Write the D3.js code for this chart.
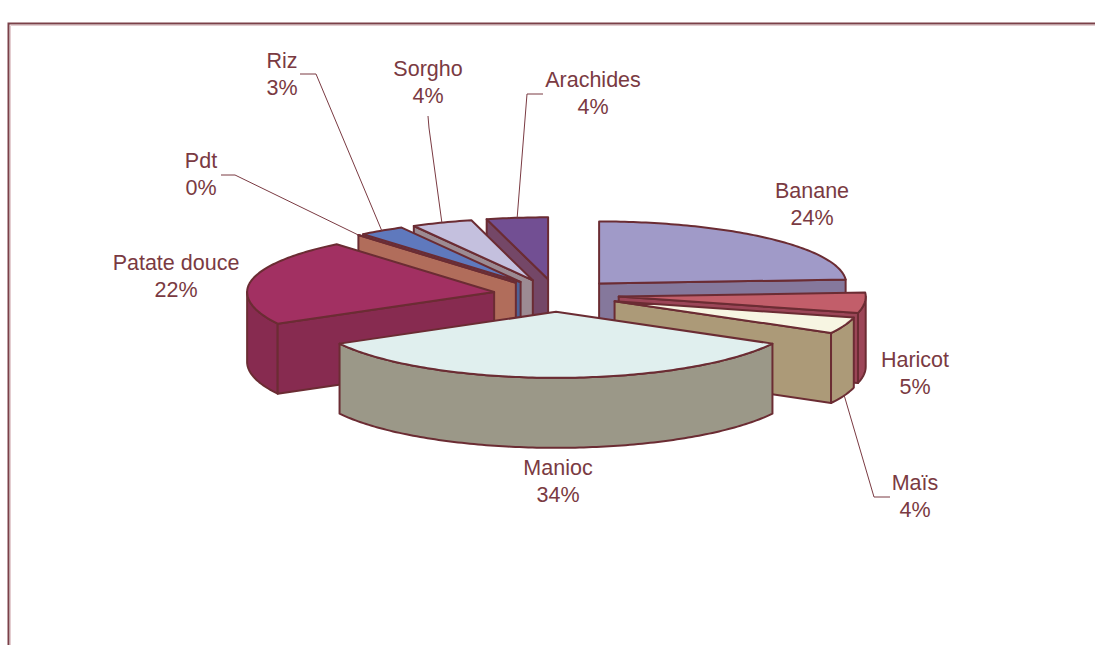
<!DOCTYPE html>
<html>
<head>
<meta charset="utf-8">
<script src="https://cdn.jsdelivr.net/npm/d3@7"></script>
<style>
  html, body { margin: 0; padding: 0; background: #ffffff; }
  svg { display: block; }
</style>
</head>
<body>
<svg id="chart" width="1095" height="645"></svg>
<script>
// Crop shares (percent of cultivated area)
const categories = ["Banane", "Haricot", "Maïs", "Manioc", "Patate douce", "Pdt", "Riz", "Sorgho", "Arachides"];
const shares = [24, 5, 4, 34, 22, 0, 3, 4, 4];

// Face colours per slice: lit top and shaded walls
const topColors  = ["#A09AC8", "#C25E6A", "#F7F5E2", "#E0EFEE", "#A23062", "#C27A64", "#5F79BD", "#C4C0DE", "#724F93"];
const sideColors = ["#85789C", "#9C4658", "#AC9A78", "#9B9888", "#872B50", "#B16D5B", "#4F6196", "#9C8B93", "#744767"];

// Label placement: anchor (centre, first baseline) and optional leader elbow
const labelLayout = [
  { x: 812, y: 198 },
  { x: 915, y: 367 },
  { x: 915, y: 490, leader: [[890, 497], [874, 497]], attach: "bottom" },
  { x: 558, y: 475 },
  { x: 176, y: 270 },
  { x: 201, y: 168, leader: [[221, 175], [235, 175]], attach: "top" },
  { x: 282, y: 68,  leader: [[300, 74], [316, 74]], attach: "top" },
  { x: 428, y: 76,  leader: [[428, 116], [429, 128]], attach: "top" },
  { x: 593, y: 87,  leader: [[543, 94], [527, 94]], attach: "top" }
];

const W = 1095, H = 645;
const cx = 556, cy = 295;      // centre of the pie disc
const rx = 247;                // projected horizontal radius
const ryFront = 66, ryBack = 62; // projected depth radius, near and far halves
const depth = 70;              // wall height
const explode = 0.255;         // slice offset as a fraction of the radius
const stroke = "#6B2C33";
const textColor = "#7A3A42";

const svg = d3.select("#chart");

// Chart frame
svg.append("path")
  .attr("d", `M8.5,${H} L8.5,23.5 L${W},23.5`)
  .attr("fill", "none")
  .attr("stroke", "#7B4048")
  .attr("stroke-width", 2);
svg.append("path")
  .attr("d", `M10.5,${H} L10.5,25.5 L${W},25.5`)
  .attr("fill", "none")
  .attr("stroke", "#E4CDD0")
  .attr("stroke-width", 1);

// Ground-plane scales: unit disc coordinates -> screen (far half slightly foreshortened)
const xScale = d3.scaleLinear().domain([-1, 1]).range([cx - rx, cx + rx]);
const zScale = d3.scaleLinear().domain([-1, 0, 1]).range([cy - ryBack, cy, cy + ryFront]);

const pie = d3.pie().sort(null).value(d => d.value)
  .startAngle(0).endAngle(2 * Math.PI);

const data = categories.map((c, i) => ({ name: c, value: shares[i], i }));
const arcs = pie(data);

// Project a point of a slice: angle theta (clockwise from 12 o'clock),
// radius fraction r, wall level h (0 top, 1 bottom), slice mid angle m
function project(theta, r, h, m) {
  const X = r * Math.sin(theta) + explode * Math.sin(m);
  const Z = -r * Math.cos(theta) - explode * Math.cos(m);
  return [xScale(X), zScale(Z) + h * depth];
}

function arcPoints(a0, a1, h, m) {
  const n = Math.max(2, Math.ceil(Math.abs(a1 - a0) / (Math.PI / 180)));
  const pts = [];
  for (let k = 0; k <= n; k++) {
    const t = a0 + (a1 - a0) * k / n;
    pts.push(project(t, 1, h, m));
  }
  return pts;
}

const line = d3.line();

arcs.forEach(a => {
  a.mid = (a.startAngle + a.endAngle) / 2;
  a.zOrder = -Math.cos(a.mid);
});

// Paint from back to front
const order = arcs.slice().sort((p, q) => p.zOrder - q.zOrder);

const gSlices = svg.append("g");

order.forEach(a => {
  const g = gSlices.append("g");
  const m = a.mid, s = a.startAngle, e = a.endAngle;
  const top = topColors[a.data.i], side = sideColors[a.data.i];

  // Outer wall, front-facing part only
  const w0 = Math.max(s, Math.PI / 2), w1 = Math.min(e, 3 * Math.PI / 2);
  if (w1 > w0) {
    const pts = arcPoints(w0, w1, 0, m).concat(arcPoints(w1, w0, 1, m));
    g.append("path").attr("d", line(pts) + "Z")
      .attr("fill", side).attr("stroke", stroke).attr("stroke-width", 2).attr("stroke-linejoin", "round");
  }

  // Radial walls facing the viewer
  const faces = [];
  if (Math.sin(s) < -1e-6) faces.push(s);
  if (Math.sin(e) > 1e-6) faces.push(e);
  faces.forEach(t => {
    const pts = [project(0, 0, 0, m), project(t, 1, 0, m), project(t, 1, 1, m), project(0, 0, 1, m)];
    g.append("path").attr("d", line(pts) + "Z")
      .attr("fill", side).attr("stroke", stroke).attr("stroke-width", 2).attr("stroke-linejoin", "round");
  });

  // Top face
  const topPts = [project(0, 0, 0, m)].concat(arcPoints(s, e, 0, m));
  g.append("path").attr("d", line(topPts) + "Z")
    .attr("fill", top).attr("stroke", stroke).attr("stroke-width", 2).attr("stroke-linejoin", "round");
});

// Leader lines
const gLeaders = svg.append("g");
arcs.forEach(a => {
  const L = labelLayout[a.data.i];
  if (!L.leader) return;
  const end = project(a.mid, 1, L.attach === "bottom" ? 1 : 0, a.mid);
  gLeaders.append("path")
    .attr("d", line(L.leader.concat([end])))
    .attr("fill", "none")
    .attr("stroke", textColor)
    .attr("stroke-width", 1);
});

// Data labels: category and rounded share
const gLabels = svg.append("g")
  .attr("font-family", "'Liberation Sans', Arial, sans-serif")
  .attr("font-size", 21.5)
  .attr("fill", textColor)
  .attr("text-anchor", "middle");

arcs.forEach(a => {
  const L = labelLayout[a.data.i];
  const t = gLabels.append("text").attr("x", L.x).attr("y", L.y);
  t.append("tspan").attr("x", L.x).attr("y", L.y).text(a.data.name);
  t.append("tspan").attr("x", L.x).attr("y", L.y + 27).text(d3.format(".0f")(a.data.value) + "%");
});
</script>
</body>
</html>
